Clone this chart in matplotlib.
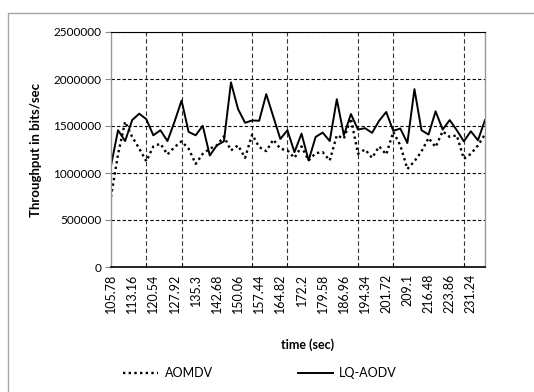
import matplotlib
matplotlib.use("Agg")
import matplotlib.pyplot as plt
import numpy as np
from matplotlib.patches import Rectangle

times = [105.78, 108.24, 110.70, 113.16, 115.62, 118.08, 120.54, 123.00, 125.46, 127.92,
         130.38, 132.84, 135.30, 137.76, 140.22, 142.68, 145.14, 147.60, 150.06, 152.52,
         154.98, 157.44, 159.90, 162.36, 164.82, 167.28, 169.74, 172.20, 174.66, 177.12,
         179.58, 182.04, 184.50, 186.96, 189.42, 191.88, 194.34, 196.80, 199.26, 201.72,
         204.18, 206.64, 209.10, 211.56, 214.02, 216.48, 218.94, 221.40, 223.86, 226.32,
         228.78, 231.24, 233.70, 236.16]

aomdv = [745000, 1200000, 1545000, 1384000, 1260000, 1125000, 1283000, 1312000, 1197000, 1276000,
         1337000, 1258000, 1097000, 1204000, 1258000, 1294000, 1390000, 1240000, 1294000, 1161000,
         1409000, 1276000, 1233000, 1355000, 1258000, 1240000, 1161000, 1283000, 1133000, 1211000,
         1222000, 1133000, 1401000, 1366000, 1581000, 1204000, 1251000, 1161000, 1283000, 1197000,
         1437000, 1294000, 1043000, 1125000, 1229000, 1373000, 1276000, 1444000, 1384000, 1401000,
         1151000, 1204000, 1294000, 1412000]

lqaodv = [1079000, 1455000, 1340000, 1563000, 1631000, 1573000, 1401000, 1455000, 1340000, 1545000,
          1771000, 1437000, 1401000, 1502000, 1186000, 1294000, 1337000, 1964000, 1681000, 1534000,
          1559000, 1556000, 1839000, 1599000, 1362000, 1455000, 1222000, 1419000, 1133000, 1384000,
          1430000, 1340000, 1785000, 1401000, 1627000, 1462000, 1477000, 1427000, 1556000, 1649000,
          1448000, 1473000, 1319000, 1892000, 1455000, 1409000, 1656000, 1462000, 1563000, 1455000,
          1337000, 1444000, 1348000, 1563000]

yticks = [0, 500000, 1000000, 1500000, 2000000, 2500000]
label_step = 3
grid_step = 5

plt.rcParams['font.family'] = ['Lato', 'DejaVu Sans']

W, H = 534, 392
fig = plt.figure(figsize=(W / 100, H / 100), dpi=100)
fig.patch.set_facecolor('white')

# outer chart border (only top/left visible)
fig.patches.append(Rectangle((8 / W, -0.05), 1.2, 1 - 13 / H + 0.05, transform=fig.transFigure,
                             fill=False, edgecolor='#a6a6a6', linewidth=1.0, zorder=0))

ax = fig.add_axes([111 / W, 1 - 267 / H, (485 - 111) / W, (267 - 32) / H])
x = np.arange(len(times))

ax.plot(x, aomdv, color='black', linestyle=(0, (1, 1.4)), linewidth=1.7, label='AOMDV')
ax.plot(x, lqaodv, color='black', linestyle='-', linewidth=1.4, label='LQ-AODV')

ax.set_xlim(0, len(times) - 1)
ax.set_ylim(0, 2500000)
ax.set_yticks(yticks)
ax.set_yticklabels([str(v) for v in yticks], fontsize=8.5)
ax.yaxis.grid(True, linestyle=(0, (3, 2)), color='black', linewidth=0.8)

lab_idx = x[::label_step]
ax.set_xticks(lab_idx)
ax.set_xticklabels([f"{times[i]:g}" for i in lab_idx], rotation=90, fontsize=9)
ax.tick_params(axis='x', length=0, pad=5)
grid_idx = x[grid_step::grid_step]
ax.set_xticks(grid_idx, minor=True)
ax.tick_params(axis='x', which='minor', length=3, direction='in', color='black')
ax.xaxis.grid(True, which='minor', linestyle=(0, (4, 2.5)), color='#333333', linewidth=0.8)
ax.xaxis.grid(False, which='major')
ax.tick_params(axis='y', length=4, color='#888888', pad=3)

for s in ['left', 'right']:
    ax.spines[s].set_color('#999999')
    ax.spines[s].set_linewidth(1.0)
ax.spines['top'].set_color('black')
ax.spines['top'].set_linewidth(0.8)
ax.spines['bottom'].set_color('black')
ax.spines['bottom'].set_linewidth(1.2)

ax.set_ylabel('Throughput in bits/sec', fontsize=9.5, fontweight='bold', labelpad=8)
fig.text(308 / W, 1 - 345 / H, 'time (sec)', ha='center', va='center', fontsize=9,
         fontweight='bold')

leg = fig.legend(loc='center', bbox_to_anchor=(260 / W, 1 - 373 / H), ncol=2, frameon=False,
                 fontsize=9, handlelength=2.8, columnspacing=6.8, handletextpad=0.5)

fig.savefig('out.png', dpi=100)
